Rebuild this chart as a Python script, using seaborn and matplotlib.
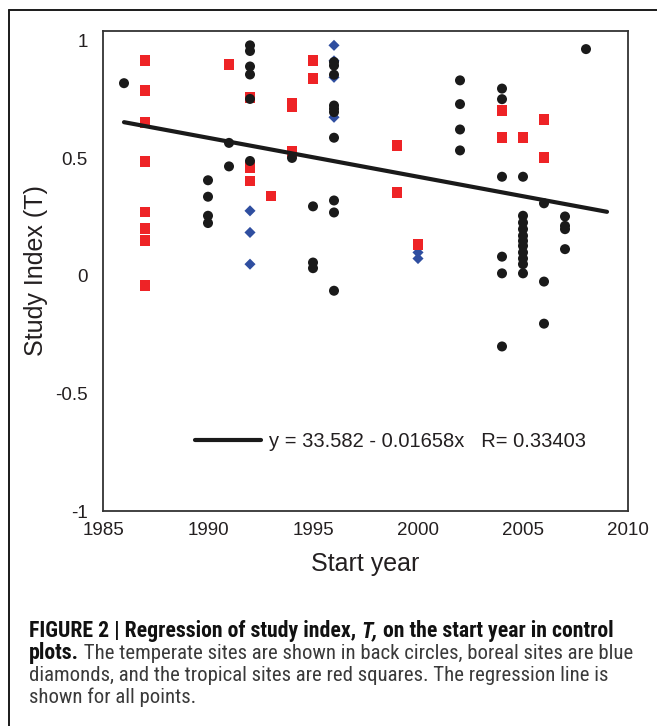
import numpy as np
import pandas as pd
import matplotlib
matplotlib.use('Agg')
import matplotlib.pyplot as plt
from matplotlib.lines import Line2D
import seaborn as sns

# 温带站点（黑色圆点）
temperate_year = [1986,
                  1990, 1990, 1990, 1990,
                  1991, 1991,
                  1992, 1992, 1992, 1992, 1992, 1992,
                  1994,
                  1995, 1995, 1995,
                  1996, 1996, 1996, 1996, 1996, 1996, 1996, 1996, 1996, 1996,
                  2002, 2002, 2002, 2002,
                  2004, 2004, 2004, 2004, 2004, 2004,
                  2005, 2005, 2005, 2005, 2005, 2005, 2005, 2005, 2005, 2005, 2005,
                  2006, 2006, 2006,
                  2007, 2007, 2007, 2007,
                  2008]
temperate_t = [0.82,
               0.407, 0.337, 0.256, 0.225,
               0.566, 0.466,
               0.981, 0.957, 0.891, 0.857, 0.753, 0.489,
               0.502,
               0.296, 0.057, 0.033,
               0.910, 0.895, 0.856, 0.725, 0.711, 0.697, 0.588, 0.321, 0.270, -0.063,
               0.832, 0.731, 0.623, 0.534,
               0.797, 0.752, 0.422, 0.082, 0.011, -0.300,
               0.422, 0.256, 0.227, 0.199, 0.171, 0.149, 0.128, 0.100, 0.074, 0.050, 0.011,
               0.309, -0.024, -0.203,
               0.253, 0.213, 0.199, 0.114,
               0.965]

# 北方站点（蓝色菱形）
boreal_year = [1992, 1992, 1992, 1996, 1996, 1996, 1996, 2000, 2000]
boreal_t = [0.277, 0.185, 0.050, 0.981, 0.915, 0.845, 0.675, 0.100, 0.074]

# 热带站点（红色方块）
tropical_year = [1987, 1987, 1987, 1987, 1987, 1987, 1987, 1987,
                 1991,
                 1992, 1992, 1992,
                 1993,
                 1994, 1994, 1994,
                 1995, 1995,
                 1999, 1999,
                 2000,
                 2004, 2004,
                 2005,
                 2006, 2006]
tropical_t = [0.915, 0.788, 0.651, 0.485, 0.272, 0.203, 0.152, -0.040,
              0.898,
              0.760, 0.462, 0.404,
              0.340,
              0.735, 0.722, 0.530,
              0.915, 0.839,
              0.554, 0.353,
              0.135,
              0.702, 0.587,
              0.587,
              0.664, 0.502]

# 回归线
reg_intercept = 33.582
reg_slope = -0.01658
reg_r = 0.33403
reg_years = [1986, 2009]

x_ticks = [1985, 1990, 1995, 2000, 2005, 2010]
y_ticks = [-1, -0.5, 0, 0.5, 1]
y_ticklabels = ['-1', '-0.5', '0', '0.5', '1']

sns.set_style('white')
plt.rcParams['font.family'] = ['Liberation Sans', 'DejaVu Sans']
plt.rcParams['axes.unicode_minus'] = False

fig = plt.figure(figsize=(6.57, 7.26), dpi=100)
ax = fig.add_axes([103 / 657, 1 - 511 / 726, 525 / 657, 480 / 726])

sns.scatterplot(x=boreal_year, y=boreal_t, marker='D', color='#2f4ea0', s=32,
                edgecolor='none', ax=ax, zorder=2)
sns.scatterplot(x=tropical_year, y=tropical_t, marker='s', color='#ee2326', s=62,
                edgecolor='none', ax=ax, zorder=3)

line_df = pd.DataFrame({'year': reg_years})
line_df['t'] = reg_intercept + reg_slope * line_df['year']
sns.lineplot(data=line_df, x='year', y='t', color='#1a1a1a', lw=3.0, ax=ax, zorder=4,
             label='y = %.3f - %.5fx   R= %.5f' % (reg_intercept, -reg_slope, reg_r))

sns.scatterplot(x=temperate_year, y=temperate_t, marker='o', color='#1a1a1a', s=52,
                edgecolor='none', ax=ax, zorder=5)

ax.set_xlim(1985, 2010)
ax.set_ylim(-1, 1.042)
ax.set_xticks(x_ticks)
ax.set_yticks(y_ticks)
ax.set_yticklabels(y_ticklabels)
ax.tick_params(axis='x', direction='in', length=6, width=1, color='#333333',
               pad=8, labelsize=13.5, labelcolor='#231f20')
ax.tick_params(axis='y', length=0, pad=11, labelsize=13.5, labelcolor='#231f20')
for sp in ax.spines.values():
    sp.set_color('#333333')
    sp.set_linewidth(1.3)
ax.set_xlabel('Start year', fontsize=18, color='#231f20', labelpad=9)
ax.set_ylabel('Study Index (T)', fontsize=18, color='#231f20', labelpad=5)

leg = ax.legend(loc='center', bbox_to_anchor=(0.548, 0.144), frameon=False,
                fontsize=14.5, handlelength=3.3, handletextpad=0.4)
for t in leg.get_texts():
    t.set_color('#231f20')

# 外框
fig.add_artist(Line2D([9 / 657, 9 / 657], [0, 1 - 10 / 726], transform=fig.transFigure,
                      color='#1a1a1a', lw=1.4))
fig.add_artist(Line2D([9 / 657, 1], [1 - 10 / 726, 1 - 10 / 726], transform=fig.transFigure,
                      color='#1a1a1a', lw=1.4))

# 图注
cap_family = ['Roboto Condensed', 'Liberation Sans Narrow', 'Liberation Sans', 'DejaVu Sans']
renderer = fig.canvas.get_renderer()

line1_bold = 'FIGURE 2 | Regression of study index, T, on the start year in control'
line2_plain = ' The temperate sites are shown in back circles, boreal sites are blue'


def text_width(txt, size, weight):
    probe = fig.text(0, 0, txt, fontsize=size, family=cap_family, weight=weight)
    w = probe.get_window_extent(renderer).width
    probe.remove()
    return w


# 第一行粗体约 585 像素宽，第二行普通文字约 553 像素宽
bold_size = 12 * 585 / text_width(line1_bold, 12, 'bold')
plain_size = 12 * 553 / text_width(line2_plain, 12, 'normal')


def write_runs(runs, x0, y0):
    x = x0
    for txt, weight, style, color in runs:
        size = bold_size if weight == 'bold' else plain_size
        t = fig.text(x, y0, txt, fontsize=size, family=cap_family, weight=weight,
                     style=style, color=color, va='baseline', ha='left')
        bb = t.get_window_extent(renderer)
        x = x + bb.width / fig.bbox.width


cap_x = 29 / 657
write_runs([('FIGURE 2 | Regression of study index, ', 'bold', 'normal', '#111111'),
            ('T,', 'bold', 'italic', '#111111'),
            (' on the start year in control', 'bold', 'normal', '#111111')],
           cap_x, 1 - 637 / 726)
write_runs([('plots.', 'bold', 'normal', '#111111'),
            (line2_plain, 'normal', 'normal', '#3a3a3a')],
           cap_x, 1 - 659 / 726)
write_runs([('diamonds, and the tropical sites are red squares. The regression line is',
             'normal', 'normal', '#3a3a3a')],
           cap_x, 1 - 681 / 726)
write_runs([('shown for all points.', 'normal', 'normal', '#3a3a3a')],
           cap_x, 1 - 703 / 726)

fig.savefig('out.png', dpi=100)
plt.close(fig)
